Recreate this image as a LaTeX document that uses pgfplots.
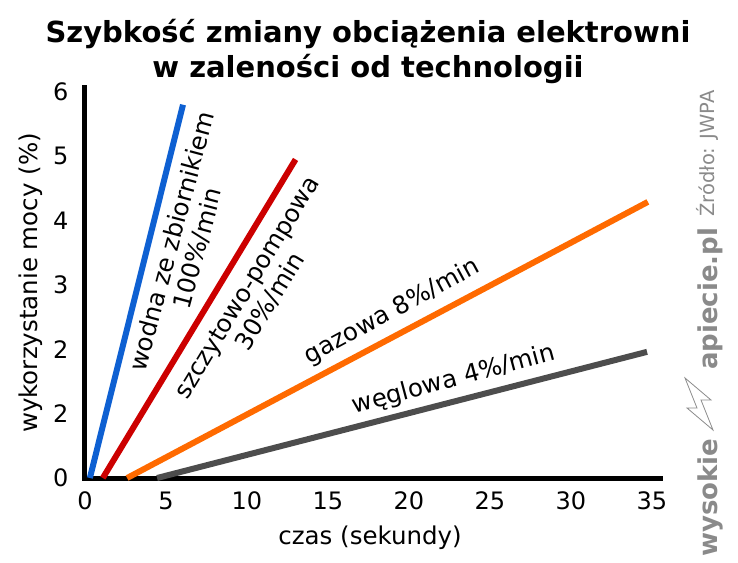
\documentclass[border=0pt]{standalone}
\usepackage{pgfplots}
\pgfplotsset{compat=1.18}
\usepackage{fontspec}
\setmainfont{DejaVu Sans}
\definecolor{cblue}{RGB}{14,96,210}
\definecolor{cred}{RGB}{204,0,0}
\definecolor{corange}{RGB}{255,106,0}
\definecolor{cgray}{RGB}{77,77,77}
\definecolor{wmgray}{RGB}{138,138,138}
\begin{document}
\begin{tikzpicture}
\useasboundingbox (-85pt,-84pt) rectangle (653pt,478pt);
\begin{axis}[
  at={(0pt,0pt)}, anchor=origin,
  scale only axis, width=575pt, height=390pt,
  xmin=0, xmax=35.5, ymin=0, ymax=6.06,
  axis x line*=bottom, axis y line*=left,
  axis line style={line width=5pt, line cap=rect, -},
  xtick={0,5,...,35}, ytick={0,1,...,6},
  yticklabels={0,2,2,3,4,5,6},
  major tick length=0pt,
  tick label style={font=\fontsize{24}{28}\selectfont},
  xticklabel style={yshift=-10pt},
  yticklabel style={xshift=-13pt},
  /pgf/number format/assume math mode=true,
  clip=false,
  xlabel={czas (sekundy)},
  ylabel={wykorzystanie mocy (\%)},
  label style={font=\fontsize{24.5}{28}\selectfont},
  xlabel style={at={(axis description cs:0.4957,-0.1538)}, anchor=center},
  ylabel style={at={(axis description cs:-0.0939,0.5)}, anchor=center, rotate=0},
]
\addplot[cblue, line width=6pt] coordinates {(0.3,0) (6.05,5.8)};
\addplot[cred, line width=6pt] coordinates {(1.1,0) (13.0,4.95)};
\addplot[corange, line width=6pt] coordinates {(2.6,0) (34.75,4.29)};
\addplot[cgray, line width=6pt] coordinates {(4.45,0) (34.7,1.96)};
\node[rotate=75, align=center, font=\fontsize{24.5}{27}\selectfont] at (axis cs:6.17,3.62) {wodna ze zbiornikiem\\100\%/min};
\node[rotate=58.7, align=center, font=\fontsize{24.5}{27}\selectfont] at (axis cs:10.74,2.85) {szczytowo-pompowa\\30\%/min};
\node[rotate=28.5, font=\fontsize{24.5}{27}\selectfont] at (axis cs:18.95,2.58) {gazowa 8\%/min};
\node[rotate=15, font=\fontsize{24.5}{27}\selectfont] at (axis cs:22.78,1.52) {węglowa 4\%/min};
\end{axis}
\node[align=center, font=\bfseries\fontsize{29}{35}\selectfont] at (283pt,427pt) {Szybkość zmiany obciążenia elektrowni\\w zaleności od technologii};
\node[rotate=90, anchor=base west, inner sep=0pt, text=wmgray, font=\bfseries\fontsize{26}{30}\selectfont] at (632pt,-79pt) {wysokie};
\draw[wmgray, line width=0.8pt, line join=miter] (628pt,48pt) -- (602pt,70pt) -- (612pt,70pt) -- (600pt,100pt) -- (626pt,78pt) -- (616pt,78pt) -- cycle;
\node[rotate=90, anchor=base west, inner sep=0pt, text=wmgray, font=\bfseries\fontsize{26}{30}\selectfont] at (632pt,108pt) {apiecie.pl};
\node[rotate=90, anchor=base west, inner sep=0pt, text=wmgray, font=\fontsize{19.5}{24}\selectfont] at (629pt,261pt) {Źródło: JWPA};
\end{tikzpicture}
\end{document}
